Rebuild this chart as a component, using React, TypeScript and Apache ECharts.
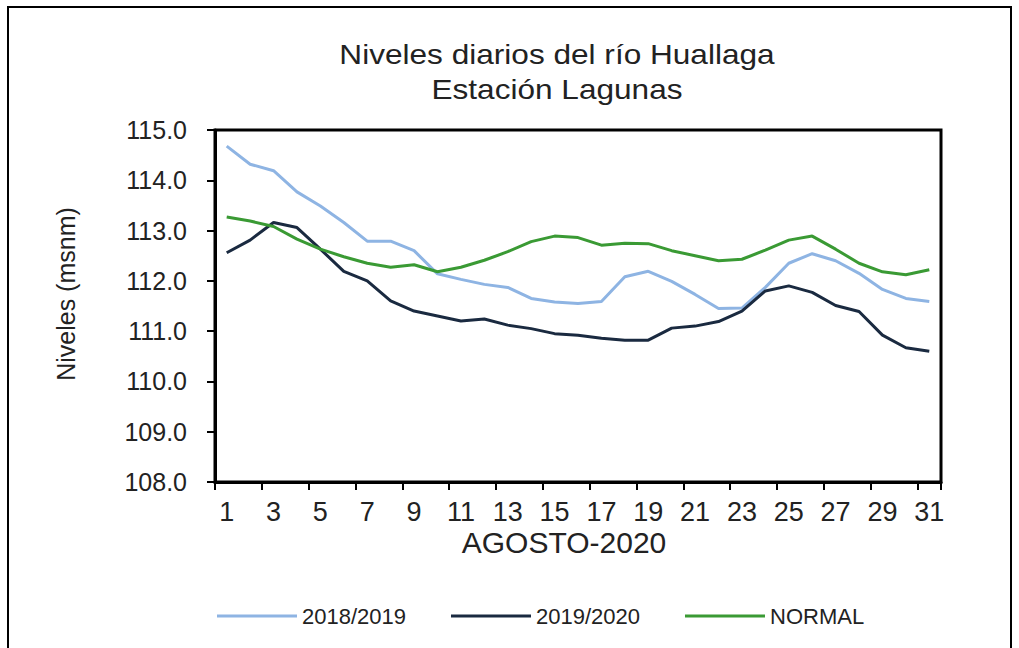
import React, { useEffect, useRef } from "react";
import * as echarts from "echarts";

const days: string[] = Array.from({ length: 31 }, (_, i) => String(i + 1));

const s2018_2019: number[] = [114.68, 114.32, 114.19, 113.77, 113.49, 113.16, 112.79, 112.79, 112.6, 112.14, 112.03, 111.93, 111.87, 111.65, 111.58, 111.55, 111.59, 112.08, 112.19, 111.99, 111.73, 111.45, 111.46, 111.87, 112.35, 112.54, 112.4, 112.15, 111.83, 111.65, 111.59];
const s2019_2020: number[] = [112.56, 112.81, 113.16, 113.06, 112.63, 112.19, 112.0, 111.6, 111.4, 111.3, 111.2, 111.24, 111.12, 111.05, 110.95, 110.92, 110.86, 110.82, 110.82, 111.06, 111.1, 111.19, 111.4, 111.8, 111.9, 111.77, 111.51, 111.39, 110.92, 110.67, 110.6];
const sNormal: number[] = [113.27, 113.19, 113.08, 112.83, 112.63, 112.48, 112.35, 112.27, 112.32, 112.18, 112.27, 112.41, 112.58, 112.78, 112.89, 112.86, 112.71, 112.75, 112.74, 112.6, 112.5, 112.4, 112.43, 112.61, 112.81, 112.89, 112.63, 112.35, 112.18, 112.12, 112.22];

const seriesNames: string[] = ["2018/2019", "2019/2020", "NORMAL"];
const titleLines: string[] = ["Niveles diarios del río Huallaga", "Estación Lagunas"];
const yAxisTitle = "Niveles (msnm)";
const xAxisTitle = "AGOSTO-2020";

const FONT = "'Liberation Sans', Arial, sans-serif";

export default function App() {
  const ref = useRef<HTMLDivElement>(null);
  useEffect(() => {
    if (!ref.current) return;
    const chart = echarts.init(ref.current, undefined, { renderer: "svg" });
    const colors = ["#8EB4E3", "#1A2A40", "#3A9A34"];
    const data = [s2018_2019, s2019_2020, sNormal];
    chart.setOption({
      animation: false,
      backgroundColor: "#ffffff",
      textStyle: { fontFamily: FONT },
      grid: {
        left: 215,
        right: 78,
        top: 130,
        bottom: 166,
        show: true,
        borderColor: "#000",
        borderWidth: 3,
        backgroundColor: "transparent",
      },
      legend: {
        left: 212,
        top: 600,
        icon: "rect",
        itemWidth: 80,
        itemHeight: 3,
        itemGap: 45,
        data: seriesNames,
        textStyle: { fontFamily: FONT, fontSize: 22, color: "#222" },
      },
      xAxis: {
        type: "category",
        data: days,
        boundaryGap: true,
        axisLine: { lineStyle: { color: "#000", width: 3 } },
        axisTick: { show: true, interval: 1, length: 8, lineStyle: { color: "#000", width: 2 } },
        axisLabel: { interval: 1, fontSize: 27, color: "#222", margin: 16, fontFamily: FONT },
        splitLine: { show: false },
      },
      yAxis: {
        type: "value",
        min: 108,
        max: 115,
        interval: 1,
        axisLine: { show: true, lineStyle: { color: "#000", width: 3 } },
        axisTick: { show: true, length: 8, lineStyle: { color: "#000", width: 2 } },
        axisLabel: {
          fontSize: 25,
          color: "#222",
          margin: 28,
          fontFamily: FONT,
          formatter: (v: number) => v.toFixed(1),
        },
        splitLine: { show: false },
      },
      series: seriesNames.map((n, i) => ({
        name: n,
        type: "line",
        data: data[i],
        symbol: "none",
        lineStyle: { color: colors[i], width: 3 },
        itemStyle: { color: colors[i] },
      })),
      graphic: [
        {
          type: "rect",
          shape: { x: 8, y: 7, width: 1003, height: 680 },
          style: { fill: "none", stroke: "#000", lineWidth: 2 },
          silent: true,
        },
        {
          type: "text",
          x: 557,
          y: 54,
          scaleX: 1.17,
          style: {
            text: titleLines[0],
            fontFamily: FONT,
            fontSize: 27,
            fill: "#222",
            align: "center",
            verticalAlign: "middle",
          },
        },
        {
          type: "text",
          x: 557,
          y: 89,
          scaleX: 1.17,
          style: {
            text: titleLines[1],
            fontFamily: FONT,
            fontSize: 27,
            fill: "#222",
            align: "center",
            verticalAlign: "middle",
          },
        },
        {
          type: "text",
          x: 66,
          y: 294,
          rotation: Math.PI / 2,
          style: {
            text: yAxisTitle,
            fontFamily: FONT,
            fontSize: 25,
            fill: "#222",
            align: "center",
            verticalAlign: "middle",
          },
        },
        {
          type: "text",
          x: 564,
          y: 542,
          style: {
            text: xAxisTitle,
            fontFamily: FONT,
            fontSize: 30,
            fill: "#222",
            align: "center",
            verticalAlign: "middle",
          },
        },
      ],
    });
    return () => chart.dispose();
  }, []);
  return (
    <div
      ref={ref}
      style={{ position: "fixed", left: 0, top: 0, width: 1019, height: 648 }}
    />
  );
}
